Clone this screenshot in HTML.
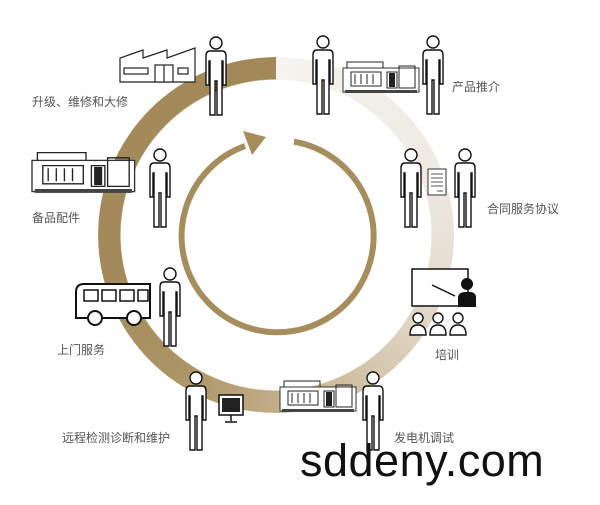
<!DOCTYPE html>
<html><head><meta charset="utf-8"><style>
body{margin:0;background:#fff;width:600px;height:505px;overflow:hidden;position:relative;font-family:"Liberation Sans","Noto Sans CJK SC",sans-serif}
.ring{position:absolute;left:98px;top:57px;width:356px;height:356px;border-radius:50%;
background:conic-gradient(from 0deg,#f6f4f0 0deg,#eeeae3 70deg,#e0d7c6 120deg,#c7b591 170deg,#ab9465 215deg,#a38a5a 260deg,#a28959 360deg);
-webkit-mask:radial-gradient(circle,transparent 155px,#000 156px);mask:radial-gradient(circle,transparent 155px,#000 156px)}
.t{position:absolute;font-size:12px;color:#555;white-space:nowrap}
svg{position:absolute;left:0;top:0}
</style></head><body>
<div class="ring"></div>
<svg width="600" height="505" viewBox="0 0 600 505">
<defs>
<g id="p"><circle cx="13" cy="8" r="6" fill="#fff" stroke="#111" stroke-width="1.4"/>
<path d="M7,16 H19 Q23,16 23,21 V50 H20 V26 H19 V80 H14 V46 H12 V80 H7 V26 H6 V50 H3 V21 Q3,16 7,16 Z" fill="#fff" stroke="#111" stroke-width="1.4"/></g>
<g id="gen"><rect x="0" y="8" width="76" height="24" fill="#fff" stroke="#333" stroke-width="1"/>
<path d="M4,8 V2 H40 V8 M8,12 h30 v14 h-30z M12,14 v10 M18,14 v10 M24,14 v10 M30,14 v10 M44,12 h10 v16 h-10z M56,6 h16 v22 h-16z" fill="none" stroke="#222" stroke-width="1"/>
<rect x="46" y="13" width="6" height="14" fill="#222"/><rect x="2" y="30" width="72" height="3" fill="#444"/></g>
</defs>
<path d="M294,141.7 A96 96 0 1 1 245,146" fill="none" stroke="#a68d5e" stroke-width="6"/>
<polygon points="266,137 243,131 252,155" fill="#a68d5e"/>
<!-- factory -->
<g fill="#fff" stroke="#222" stroke-width="1.2">
<path d="M120,82 V58 L143,50 V58 L167,50 V58 L195,48 V82 Z"/>
<rect x="124" y="68" width="24" height="6"/><rect x="155" y="65" width="18" height="17"/><line x1="164" y1="65" x2="164" y2="82"/><rect x="178" y="68" width="10" height="6"/>
</g>
<use href="#p" x="203" y="35"/>
<use href="#p" x="310" y="34"/><use href="#gen" x="343" y="60"/><use href="#p" x="420" y="34"/>
<use href="#gen" transform="translate(32,150) scale(1.35,1.3)"/><use href="#p" x="147" y="147"/>
<use href="#p" x="398" y="147"/>
<rect x="428" y="169" width="18" height="26" fill="#fff" stroke="#333"/>
<path d="M431,174h12M431,178h12M431,182h12M431,186h12M437,191h6" stroke="#555"/>
<use href="#p" x="452" y="147"/>
<!-- bus -->
<g stroke="#111" stroke-width="2" fill="#fff">
<path d="M76,318 V292 Q76,284 84,284 H150 V318 Z"/>
<rect x="84" y="290" width="14" height="11" stroke-width="1.5"/><rect x="102" y="290" width="14" height="11" stroke-width="1.5"/><rect x="120" y="290" width="14" height="11" stroke-width="1.5"/><rect x="138" y="290" width="10" height="11" stroke-width="1.5"/>
<circle cx="95" cy="318" r="7"/><circle cx="134" cy="318" r="7"/></g>
<use href="#p" x="157" y="266"/>
<!-- training -->
<rect x="412" y="269" width="56" height="37" fill="#fff" stroke="#111" stroke-width="1.5"/>
<line x1="432" y1="285" x2="455" y2="296" stroke="#111" stroke-width="1.5"/>
<circle cx="467" cy="284" r="6" fill="#111"/><path d="M458,307 V298 Q458,292 466,292 H470 Q476,292 476,298 V307 Z" fill="#111"/>
<g fill="#fff" stroke="#111" stroke-width="1.4"><circle cx="418" cy="318" r="5"/><path d="M410,335 Q410,325 418,325 Q426,325 426,335Z"/>
<circle cx="438" cy="318" r="5"/><path d="M430,335 Q430,325 438,325 Q446,325 446,335Z"/>
<circle cx="458" cy="318" r="5"/><path d="M450,335 Q450,325 458,325 Q466,325 466,335Z"/></g>
<!-- bottom -->
<use href="#p" x="183" y="370"/>
<rect x="219" y="395" width="24" height="20" fill="#fff" stroke="#111" stroke-width="1.5"/><rect x="222" y="398" width="18" height="14" fill="#222"/><path d="M231,415 V421 M225,422 H237" stroke="#111" stroke-width="1.5"/>
<use href="#gen" x="280" y="379"/>
<use href="#p" x="360" y="370"/>
</svg>
<div class="t" style="left:32px;top:93px">升级、维修和大修</div>
<div class="t" style="left:452px;top:78px">产品推介</div>
<div class="t" style="left:487px;top:200px">合同服务协议</div>
<div class="t" style="left:32px;top:209px">备品配件</div>
<div class="t" style="left:57px;top:341px">上门服务</div>
<div class="t" style="left:435px;top:346px">培训</div>
<div class="t" style="left:62px;top:429px">远程检测诊断和维护</div>
<div class="t" style="left:394px;top:429px">发电机调试</div>
<div style="position:absolute;left:300px;top:435px;font-size:45px;color:#111;letter-spacing:0.5px">sddeny.com</div>
</body></html>
